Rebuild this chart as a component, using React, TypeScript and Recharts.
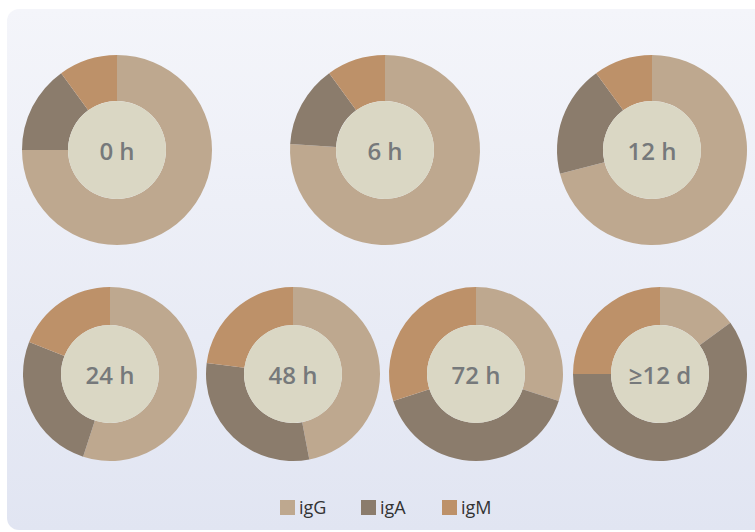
import React from 'react';
import { PieChart, Pie, Cell, Legend } from 'recharts';

const categories = ['0 h', '6 h', '12 h', '24 h', '48 h', '72 h', '≥12 d'];
const seriesNames = ['igG', 'igA', 'igM'];
const igG = [75, 76, 71, 55, 47, 30, 15];
const igA = [15, 14, 19, 26, 30, 40, 60];
const igM = [10, 10, 10, 19, 23, 30, 25];

const COLORS = ['#bea88f', '#8b7c6c', '#bd9169'];
const INNER_FILL = '#dad7c4';
const LABEL_COLOR = '#76797b';

const layout = [
  { cx: 117, cy: 150, inner: 49, outer: 95 },
  { cx: 385, cy: 150, inner: 49, outer: 95 },
  { cx: 652, cy: 150, inner: 49, outer: 95 },
  { cx: 110, cy: 374, inner: 49, outer: 87 },
  { cx: 293, cy: 374, inner: 49, outer: 87 },
  { cx: 476, cy: 374, inner: 49, outer: 87 },
  { cx: 660, cy: 374, inner: 49, outer: 87 },
];

const FONT = '"Open Sans", "Noto Sans", sans-serif';

const LegendContent = () => (
  <div
    style={{
      position: 'absolute',
      left: 280,
      top: 495,
      display: 'flex',
      fontFamily: FONT,
      fontSize: 18,
      color: '#333',
    }}
  >
    {seriesNames.map((n, i) => (
      <div key={n} style={{ display: 'flex', alignItems: 'center', width: 81 }}>
        <span style={{ width: 15, height: 15, background: COLORS[i], display: 'inline-block', marginRight: 4 }} />
        <span>{n}</span>
      </div>
    ))}
  </div>
);

const centerLabel = (text: string) => (props: any) => (
  <text
    x={props.cx}
    y={props.cy}
    textAnchor="middle"
    dominantBaseline="central"
    fill={LABEL_COLOR}
    style={{ fontFamily: FONT, fontSize: 24, fontWeight: 600 }}
  >
    {text}
  </text>
);

export default function App() {
  return (
    <div style={{ position: 'absolute', left: 0, top: 0, width: 755, height: 532, background: '#fff', overflow: 'hidden' }}>
      <div
        style={{
          position: 'absolute',
          left: 7,
          top: 9,
          width: 770,
          height: 521,
          borderRadius: 12,
          background: 'linear-gradient(to bottom, #f4f5fa 0%, #e1e5f2 100%)',
        }}
      />
      <div style={{ position: 'absolute', left: 0, top: 0 }}>
        <PieChart width={755} height={532} margin={{ top: 0, right: 0, bottom: 0, left: 0 }}>
          {categories.map((cat, k) => {
            const data = seriesNames.map((n, i) => ({ name: n, value: [igG, igA, igM][i][k] }));
            const p = layout[k];
            return (
              <Pie
                key={cat}
                data={data}
                dataKey="value"
                nameKey="name"
                cx={p.cx}
                cy={p.cy}
                innerRadius={p.inner}
                outerRadius={p.outer}
                startAngle={90}
                endAngle={-270}
                stroke="none"
                isAnimationActive={false}
              >
                {data.map((d, i) => (
                  <Cell key={d.name} fill={COLORS[i]} />
                ))}
              </Pie>
            );
          })}
          {categories.map((cat, k) => {
            const p = layout[k];
            return (
              <Pie
                key={'c' + cat}
                data={[{ name: cat, value: 1 }]}
                dataKey="value"
                cx={p.cx}
                cy={p.cy}
                innerRadius={0}
                outerRadius={p.inner}
                fill={INNER_FILL}
                stroke="none"
                label={centerLabel(cat)}
                labelLine={false}
                isAnimationActive={false}
              />
            );
          })}
          <Legend content={() => <LegendContent />} wrapperStyle={{ position: 'absolute', left: 0, top: 0, width: 0, height: 0 }} />
        </PieChart>
      </div>
    </div>
  );
}
